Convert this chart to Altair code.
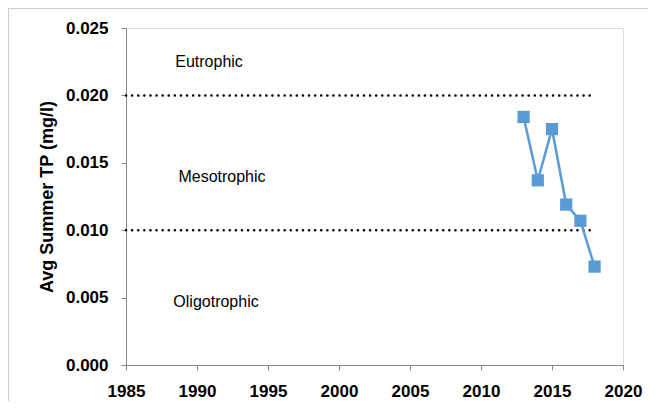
import altair as alt
import pandas as pd

years = [2013, 2014, 2015, 2016, 2017, 2018]
tp = [0.0184, 0.0137, 0.0175, 0.0119, 0.0107, 0.0073]

thresholds = [0.010, 0.020]
threshold_start = 1985
threshold_end = 2018

zone_names = ["Eutrophic", "Mesotrophic", "Oligotrophic"]
zone_x = [1990.85, 1991.76, 1991.34]
zone_y = [0.02247, 0.01391, 0.00469]

x_ticks = [1985, 1990, 1995, 2000, 2005, 2010, 2015, 2020]
y_ticks = [0.000, 0.005, 0.010, 0.015, 0.020, 0.025]

W, H = 497, 337
PAD = {"left": 118, "top": 20, "right": 25, "bottom": 36}

df = pd.DataFrame({"year": years, "tp": tp})
thr = pd.DataFrame({"y": thresholds, "x": [threshold_start] * 2, "x2": [threshold_end] * 2})
zones = pd.DataFrame({"name": zone_names, "x": zone_x, "y": zone_y})

xs = alt.Scale(domain=[1985, 2020], nice=False, zero=False)
ys = alt.Scale(domain=[0, 0.025], nice=False)

FONT = "Liberation Sans"

base_x = alt.X("year:Q", scale=xs,
               axis=alt.Axis(values=x_ticks, format="d", title=None, grid=False,
                             labelFontSize=17, labelFontWeight="bold", labelColor="black",
                             labelPadding=13, tickSize=5, labelFlush=False, labelFont=FONT))
base_y = alt.Y("tp:Q", scale=ys,
               axis=alt.Axis(values=y_ticks, format=".3f", title="Avg Summer TP (mg/l)",
                             grid=False, labelFontSize=17, labelFontWeight="bold",
                             labelColor="black", labelPadding=13, tickSize=5,
                             titleFontSize=18, titleFontWeight="bold", titleColor="black",
                             titlePadding=9, labelFont=FONT, titleFont=FONT))

line = alt.Chart(df).mark_line(color="#5B9BD5", strokeWidth=2.5).encode(x=base_x, y=base_y)
pts = alt.Chart(df).mark_point(shape="square", filled=True, size=150, color="#5B9BD5",
                               opacity=1).encode(x="year:Q", y="tp:Q")

rules = alt.Chart(thr).mark_rule(color="black", strokeWidth=2.5, strokeDash=[0.1, 6],
                                 strokeCap="round").encode(
    x=alt.X("x:Q", scale=xs), x2="x2:Q", y=alt.Y("y:Q", scale=ys))

labels = alt.Chart(zones).mark_text(fontSize=16, font=FONT, color="black").encode(
    x=alt.X("x:Q", scale=xs), y=alt.Y("y:Q", scale=ys), text="name:N")

border_top = alt.Chart(thr).mark_rule(color="#C8C8C8", strokeWidth=1.5).encode(
    x=alt.value(-PAD["left"]), x2=alt.value(W + PAD["right"] + 10), y=alt.value(-PAD["top"]))
border_left = alt.Chart(thr).mark_rule(color="#C8C8C8", strokeWidth=1.5).encode(
    x=alt.value(-PAD["left"]), y=alt.value(-PAD["top"]), y2=alt.value(H + PAD["bottom"] + 10))

chart = alt.layer(rules, line, pts, labels, border_top, border_left).properties(
    width=W, height=H, autosize=alt.AutoSizeParams(type="none"), padding=PAD
).configure_view(stroke=None).configure_axis(
    domainColor="#868686", tickColor="#868686", domainWidth=1.2
).configure(background="white")

chart.save("out.html", embed_options={"renderer": "svg", "actions": False})
